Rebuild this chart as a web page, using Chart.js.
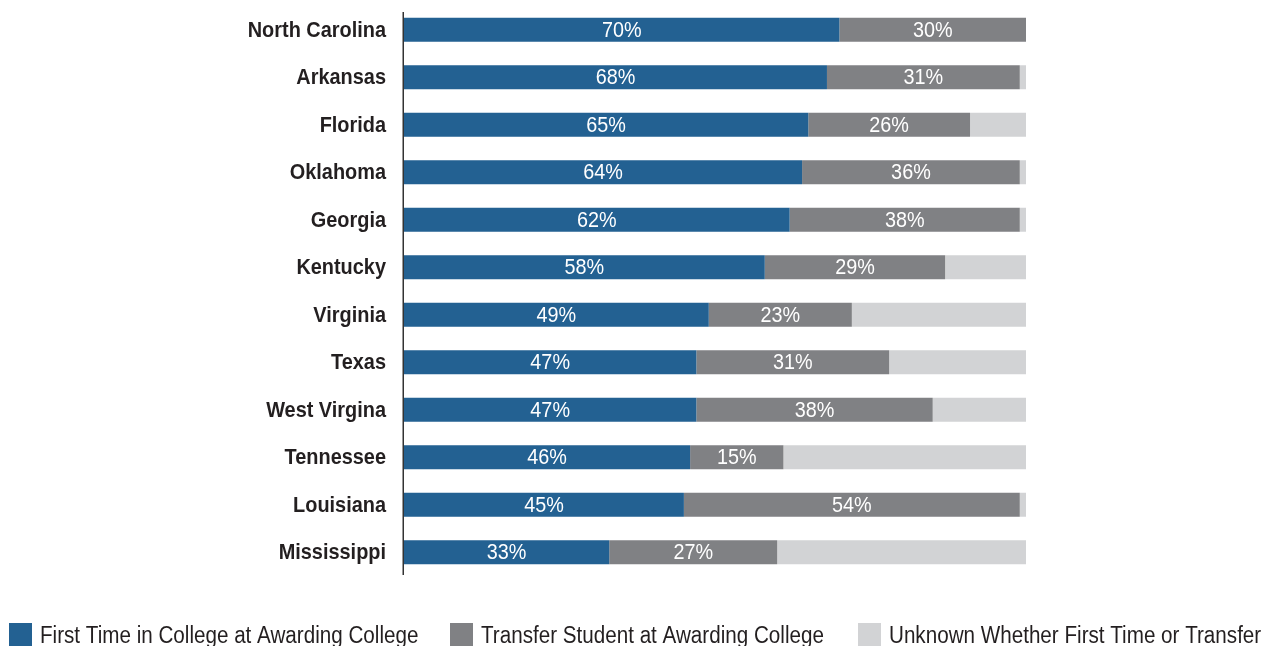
<!DOCTYPE html>
<html>
<head>
<meta charset="utf-8">
<script src="https://cdn.jsdelivr.net/npm/chart.js@4.4.1/dist/chart.umd.min.js"></script>
<style>
  html, body { margin: 0; padding: 0; background: #fff; }
  #wrap { position: relative; width: 1263px; height: 646px; }
</style>
</head>
<body>
<div id="wrap"><canvas id="c" width="1263" height="646"></canvas></div>
<script>
const states = ["North Carolina", "Arkansas", "Florida", "Oklahoma", "Georgia", "Kentucky", "Virginia", "Texas", "West Virgina", "Tennessee", "Louisiana", "Mississippi"];
const firstTime = [70, 68, 65, 64, 62, 58, 49, 47, 47, 46, 45, 33];
const transfer = [30, 31, 26, 35, 37, 29, 23, 31, 38, 15, 54, 27];
const unknown = [0, 1, 9, 1, 1, 13, 28, 22, 15, 39, 1, 40];
const firstTimeLabels = ["70%", "68%", "65%", "64%", "62%", "58%", "49%", "47%", "47%", "46%", "45%", "33%"];
const transferLabels = ["30%", "31%", "26%", "36%", "38%", "29%", "23%", "31%", "38%", "15%", "54%", "27%"];
const seriesNames = ["First Time in College at Awarding College", "Transfer Student at Awarding College", "Unknown Whether First Time or Transfer"];
const colors = ["#236192", "#808184", "#d2d3d5"];

const FONT = "'Liberation Sans', Arial, sans-serif";

function condensedText(ctx, text, x, y, align, squeeze) {
  ctx.save();
  ctx.translate(x, y);
  ctx.scale(squeeze, 1);
  ctx.textAlign = align;
  ctx.fillText(text, 0, 0);
  ctx.restore();
}

const stateLabels = {
  id: 'stateLabels',
  afterDraw(chart) {
    const ctx = chart.ctx;
    const yScale = chart.scales.y;
    ctx.save();
    ctx.fillStyle = '#231f20';
    ctx.font = 'bold 22px ' + FONT;
    ctx.textBaseline = 'middle';
    chart.data.labels.forEach((lab, i) => {
      condensedText(ctx, lab, yScale.right - 18, yScale.getPixelForTick(i) + 1, 'right', 0.905);
    });
    ctx.restore();
  }
};

const valueLabels = {
  id: 'valueLabels',
  afterDatasetsDraw(chart) {
    const ctx = chart.ctx;
    ctx.save();
    ctx.fillStyle = '#ffffff';
    ctx.font = '22px ' + FONT;
    ctx.textBaseline = 'middle';
    const labelSets = [firstTimeLabels, transferLabels];
    labelSets.forEach((labels, di) => {
      const meta = chart.getDatasetMeta(di);
      meta.data.forEach((bar, i) => {
        const x = (bar.x + bar.base) / 2;
        condensedText(ctx, labels[i], x, bar.y + 1, 'center', 0.9);
      });
    });
    ctx.restore();
  }
};

const customLegend = {
  id: 'customLegend',
  afterDraw(chart) {
    const ctx = chart.ctx;
    const xs = [9, 450, 858];
    ctx.save();
    ctx.font = '23px ' + FONT;
    ctx.textBaseline = 'middle';
    seriesNames.forEach((name, i) => {
      ctx.fillStyle = colors[i];
      ctx.fillRect(xs[i], 623, 23, 23);
      ctx.fillStyle = '#231f20';
      condensedText(ctx, name, xs[i] + 31, 637, 'left', 0.897);
    });
    ctx.restore();
  }
};

const axisLine = {
  id: 'axisLine',
  afterDraw(chart) {
    const ctx = chart.ctx;
    const x = chart.chartArea.left - 0.75;
    ctx.save();
    ctx.strokeStyle = '#333333';
    ctx.lineWidth = 1.5;
    ctx.beginPath();
    ctx.moveTo(x, 12);
    ctx.lineTo(x, 575);
    ctx.stroke();
    ctx.restore();
  }
};

new Chart(document.getElementById('c'), {
  type: 'bar',
  data: {
    labels: states,
    datasets: [
      { label: seriesNames[0], data: firstTime, backgroundColor: colors[0] },
      { label: seriesNames[1], data: transfer, backgroundColor: colors[1] },
      { label: seriesNames[2], data: unknown, backgroundColor: colors[2] }
    ]
  },
  options: {
    indexAxis: 'y',
    responsive: false,
    animation: false,
    devicePixelRatio: 1,
    layout: { padding: { top: 6, right: 237, bottom: 70, left: 0 } },
    datasets: { bar: { categoryPercentage: 1, barPercentage: 0.505, borderWidth: 0 } },
    plugins: { legend: { display: false }, tooltip: { enabled: false } },
    scales: {
      x: { stacked: true, min: 0, max: 100, display: false },
      y: {
        stacked: true,
        grid: { display: false, drawTicks: false },
        border: { display: false },
        ticks: { display: false },
        afterFit(scale) { scale.width = 404; scale.paddingTop = 0; scale.paddingBottom = 0; }
      }
    }
  },
  plugins: [valueLabels, stateLabels, customLegend, axisLine]
});
</script>
</body>
</html>
